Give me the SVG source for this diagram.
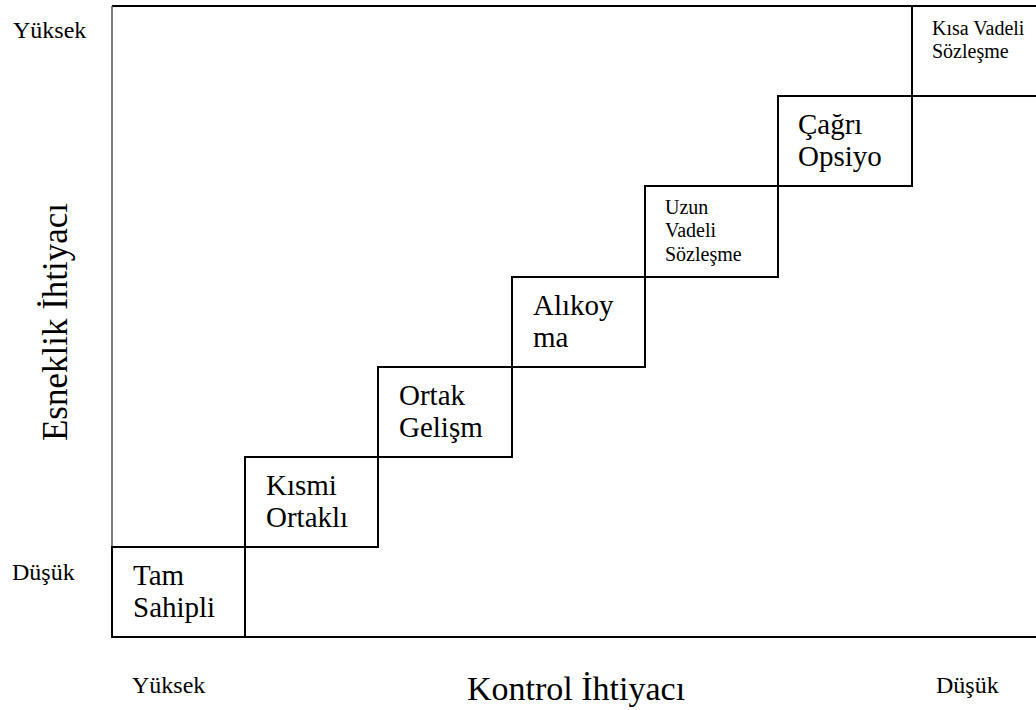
<svg xmlns="http://www.w3.org/2000/svg" width="1036" height="710" viewBox="0 0 1036 710">
  <style>
    .frame { fill: none; stroke: #000; stroke-width: 2; }
    .side { fill: none; stroke: #555; stroke-width: 1.5; }
    .box { fill: none; stroke: #000; stroke-width: 2; }
    text { font-family: "Liberation Serif", "Times New Roman", "DejaVu Serif", serif; fill: #000; }
    .lbl { font-size: 29px; }
    .sm { font-size: 20px; }
    .axis { font-size: 24px; }
    .title { font-size: 34px; }
    .vtitle { font-size: 35px; }
  </style>
  <rect width="1036" height="710" fill="#fff"/>

  <!-- chart frame -->
  <g id="frame">
    <line class="frame" x1="112" y1="6" x2="1036" y2="6"/>
    <line class="side" x1="112" y1="6" x2="112" y2="637"/>
    <line class="frame" x1="112" y1="637" x2="1036" y2="637"/>
  </g>

  <!-- stair-step option boxes -->
  <g id="tam-sahipli">
    <rect class="box" x="112" y="547" width="133" height="90"/>
    <text class="lbl" x="133" y="585">Tam</text>
    <text class="lbl" x="133" y="617">Sahipli</text>
  </g>
  <g id="kismi-ortakli">
    <rect class="box" x="245" y="457" width="133" height="90"/>
    <text class="lbl" x="266" y="495">Kısmi</text>
    <text class="lbl" x="266" y="527">Ortaklı</text>
  </g>
  <g id="ortak-gelism">
    <rect class="box" x="378" y="367" width="134" height="90"/>
    <text class="lbl" x="399" y="405">Ortak</text>
    <text class="lbl" x="399" y="437">Gelişm</text>
  </g>
  <g id="alikoyma">
    <rect class="box" x="512" y="277" width="133" height="90"/>
    <text class="lbl" x="533" y="315">Alıkoy</text>
    <text class="lbl" x="533" y="347">ma</text>
  </g>
  <g id="uzun-vadeli">
    <rect class="box" x="645" y="186" width="133" height="91"/>
    <text class="sm" x="665" y="214">Uzun</text>
    <text class="sm" x="665" y="237">Vadeli</text>
    <text class="sm" x="665" y="261">Sözleşme</text>
  </g>
  <g id="cagri-opsiyon">
    <rect class="box" x="778" y="96" width="134" height="90"/>
    <text class="lbl" x="798" y="134">Çağrı</text>
    <text class="lbl" x="798" y="166">Opsiyo</text>
  </g>
  <g id="kisa-vadeli">
    <path class="box" d="M912 6 V96 H1036"/>
    <text class="sm" x="932" y="35">Kısa Vadeli</text>
    <text class="sm" x="932" y="58">Sözleşme</text>
  </g>

  <!-- axis labels -->
  <g id="axes">
    <text class="axis" x="13" y="38">Yüksek</text>
    <text class="axis" x="12" y="580">Düşük</text>
    <text class="axis" x="132" y="693">Yüksek</text>
    <text class="axis" x="936" y="693">Düşük</text>
    <text class="title" x="467" y="700">Kontrol İhtiyacı</text>
    <text class="vtitle" transform="translate(67 322) rotate(-90)" text-anchor="middle">Esneklik İhtiyacı</text>
  </g>
</svg>
